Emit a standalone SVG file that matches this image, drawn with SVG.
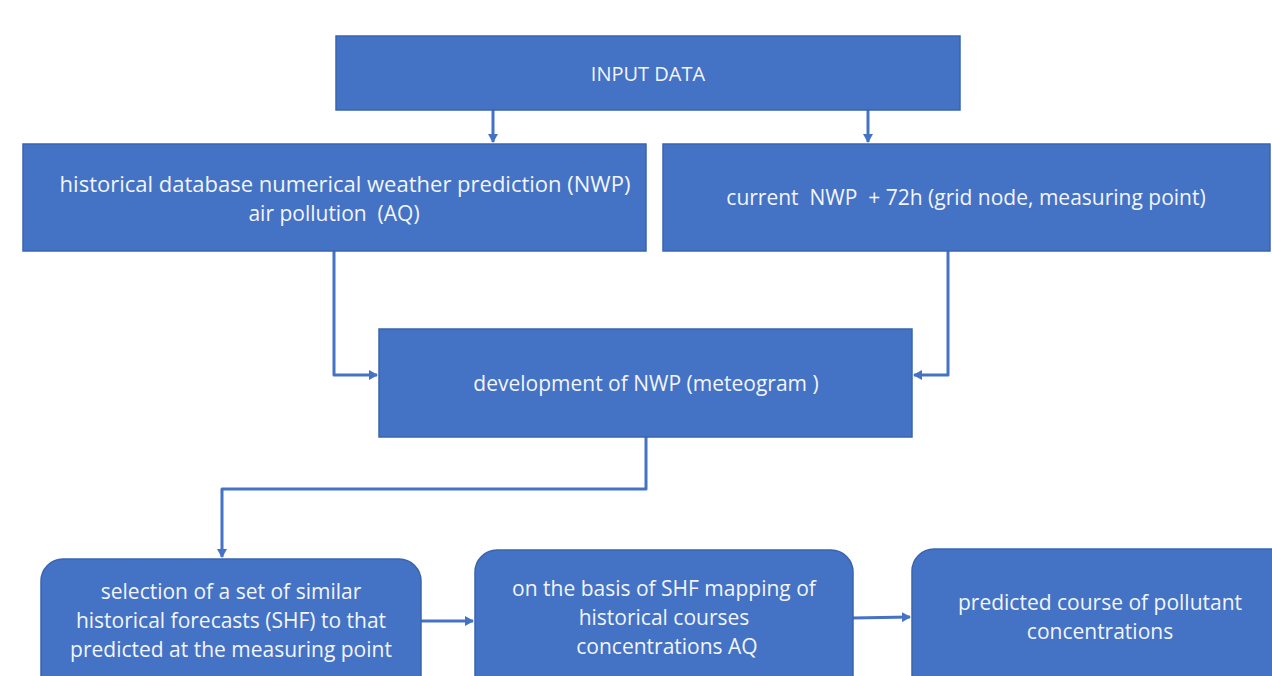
<svg xmlns="http://www.w3.org/2000/svg" width="1272" height="676" viewBox="0 0 1272 676">
<style>
.box{fill:#4472C4;stroke:#3A64B0;stroke-width:1.5}
.t{font-family:"Open Sans",Lato,"Liberation Sans",sans-serif;font-size:21px;fill:#F2F5FB;text-anchor:middle;white-space:pre}
.c{fill:none;stroke:#4472C4;stroke-width:3;stroke-linejoin:round}
</style>
<defs>
<marker id="ah" markerWidth="10" markerHeight="10" refX="8" refY="5" orient="auto" markerUnits="userSpaceOnUse">
<path d="M0,0 L9,5 L0,10 Z" fill="#4472C4"/>
</marker>
</defs>
<rect width="1272" height="676" fill="#ffffff"/>
<g id="connectors">
<path class="c" d="M493,110 V142" marker-end="url(#ah)"/>
<path class="c" d="M868,110 V142" marker-end="url(#ah)"/>
<path class="c" d="M334,251 V375 H377" marker-end="url(#ah)"/>
<path class="c" d="M948,251 V375 H914" marker-end="url(#ah)"/>
<path class="c" d="M646,437 V489 H222 V557" marker-end="url(#ah)"/>
<path class="c" d="M421,621 H473" marker-end="url(#ah)"/>
<path class="c" d="M853,618 L910,617" marker-end="url(#ah)"/>
</g>
<g id="input">
<rect class="box" x="336" y="36" width="624" height="74"/>
<text class="t" x="648" y="81" style="font-size:20px">INPUT DATA</text>
</g>
<g id="historical">
<rect class="box" x="23" y="144" width="623" height="107"/>
<text class="t" x="345" y="192" style="font-size:22px">historical database numerical weather prediction (NWP)</text>
<text class="t" x="334" y="221" xml:space="preserve">air pollution  (AQ)</text>
</g>
<g id="current">
<rect class="box" x="663" y="144" width="607" height="107"/>
<text class="t" x="966" y="205" xml:space="preserve">current  NWP  + 72h (grid node, measuring point)</text>
</g>
<g id="development">
<rect class="box" x="379" y="329" width="533" height="108"/>
<text class="t" x="646" y="391">development of NWP (meteogram )</text>
</g>
<g id="selection">
<rect class="box" x="41" y="559" width="380" height="140" rx="22"/>
<text class="t" x="231" y="599">selection of a set of similar</text>
<text class="t" x="231" y="628">historical forecasts (SHF) to that</text>
<text class="t" x="231" y="657">predicted at the measuring point</text>
</g>
<g id="mapping">
<rect class="box" x="475" y="550" width="378" height="150" rx="22"/>
<text class="t" x="664" y="596">on the basis of SHF mapping of</text>
<text class="t" x="664" y="625">historical courses</text>
<text class="t" x="667" y="654">concentrations AQ</text>
</g>
<g id="predicted">
<rect class="box" x="912" y="549" width="380" height="150" rx="22"/>
<text class="t" x="1100" y="610">predicted course of pollutant</text>
<text class="t" x="1100" y="639">concentrations</text>
</g>
</svg>
